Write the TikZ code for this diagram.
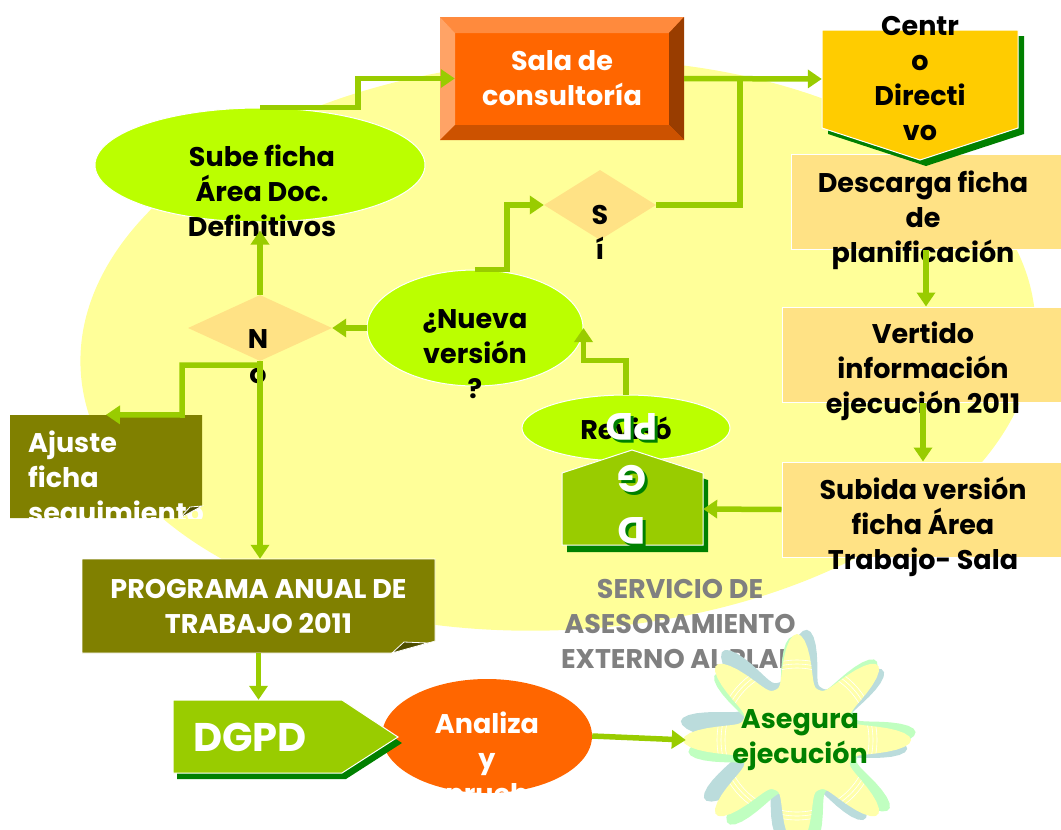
\documentclass[tikz,border=0pt]{standalone}
\usepackage{fontspec}
\setmainfont{Poppins}
\usepackage{xcolor}
\usetikzlibrary{shapes,arrows.meta,positioning,calc}

\definecolor{bgyellow}{HTML}{FFFF99}
\definecolor{limefill}{HTML}{BBFF00}
\definecolor{arrowgreen}{HTML}{99CC00}
\definecolor{peach}{HTML}{FFE285}
\definecolor{salaorange}{HTML}{FF6600}
\definecolor{beveltop}{HTML}{FF8A3D}
\definecolor{bevelleft}{HTML}{FFA366}
\definecolor{bevelright}{HTML}{993D00}
\definecolor{bevelbottom}{HTML}{CC5200}
\definecolor{olivebox}{HTML}{808000}
\definecolor{oliveshade}{HTML}{4D4D00}
\definecolor{goldbox}{HTML}{FFCC00}
\definecolor{shadowgreen}{HTML}{008000}
\definecolor{servgray}{HTML}{808080}
\definecolor{starfill}{HTML}{FFFFAA}
\definecolor{starblue}{HTML}{BBDCDC}
\definecolor{stargreen}{HTML}{C0FFC0}

\begin{document}
\begin{tikzpicture}[x=1pt, y=-1pt,
    flow/.style={draw=arrowgreen, line width=5.5pt, -{Triangle[length=14pt,width=18pt]}},
    flowline/.style={draw=arrowgreen, line width=5.5pt},
    labeltext/.style={font=\bfseries\fontsize{27}{35}\selectfont, align=center, inner sep=0pt},
    oval/.style={ellipse, fill=limefill, draw=white, line width=1pt, inner sep=0pt},
    decision/.style={diamond, fill=peach, inner sep=0pt},
    infobox/.style={rectangle, fill=peach, draw=white, line width=1pt, inner sep=0pt},
    dropshadow/.style={fill=shadowgreen}]

    \useasboundingbox (0,0) rectangle (1061,830);

    % background
    \fill[bgyellow, rotate around={3:(558,345)}] (558,345) ellipse [x radius=478, y radius=285];
    \node[labeltext, text=servgray] (servicio) at (680,624) {SERVICIO DE\\ASESORAMIENTO\\EXTERNO AL PLAN};

    % sala de consultoria
    \node[rectangle, fill=salaorange, minimum width=244pt, minimum height=123pt, labeltext, text=white] (sala) at (562,78.5) {Sala de\\consultoría};
    \fill[beveltop] (440,17) -- (684,17) -- (669,33) -- (455,33) -- cycle;
    \fill[bevelleft] (440,17) -- (455,33) -- (455,125) -- (440,140) -- cycle;
    \fill[bevelright] (684,17) -- (684,140) -- (669,125) -- (669,33) -- cycle;
    \fill[bevelbottom] (440,140) -- (684,140) -- (669,125) -- (455,125) -- cycle;

    % right column
    \node[infobox, minimum width=270pt, minimum height=95pt] (descarga) at (926,201.5) {};
    \node[labeltext] (descarga txt) at (923,220) {Descarga ficha\\de\\planificación};
    \node[infobox, minimum width=282pt, minimum height=95pt] (vertido) at (923,354.5) {};
    \node[labeltext] (vertido txt) at (923,371.5) {Vertido\\información\\ejecución 2011};
    \node[infobox, minimum width=282pt, minimum height=95pt] (subida) at (923,509.5) {};
    \node[labeltext] (subida txt) at (923,527) {Subida versión\\ficha Área\\Trabajo- Sala};

    % centro directivo
    \fill[dropshadow] (828,36) -- (1024,36) -- (1024,134) -- (926,166) -- (828,134) -- cycle;
    \draw[fill=goldbox, draw=white, line width=1pt] (822,30) -- (1018,30) -- (1018,128) -- (920,160) -- (822,128) -- cycle;
    \node[labeltext, minimum width=196pt] (centro) at (920,79) {Centr\\o\\Directi\\vo};

    % left part
    \node[oval, minimum width=330pt, minimum height=114pt] (sube) at (260,165) {};
    \node[labeltext] (sube txt) at (262,191) {Sube ficha\\Área Doc.\\Definitivos};
    \node[decision, minimum width=144pt, minimum height=66pt] (no) at (260,328) {};
    \node[labeltext] (no txt) at (258,357) {N\\o};
    \node[oval, minimum width=216pt, minimum height=116pt] (nueva) at (475,328) {};
    \node[labeltext] (nueva txt) at (475,354) {¿Nueva\\versión\\?};
    \node[decision, minimum width=112pt, minimum height=70pt] (si) at (600,205) {};
    \node[labeltext] (si txt) at (600,232) {S\\í};

    % ajuste ficha
    \fill[olivebox] (10,415) -- (202,415) -- (202,506) -- (180,518) -- (10,518) -- cycle;
    \node[minimum width=192pt, minimum height=103pt, inner sep=0pt] (ajuste) at (106,466.5) {};
    \begin{scope}
        \clip (10,415) rectangle (202,518);
        \node[labeltext, text=white, align=left, anchor=west] (ajuste txt) at (28,480) {Ajuste\\ficha\\seguimiento};
    \end{scope}
    \draw[fill=oliveshade, draw=white, line width=0.8pt] (180,518) -- (190,507) -- (202,506) -- cycle;

    % programa anual
    \draw[fill=olivebox, draw=white, line width=0.6pt] (82,559) -- (435,559) -- (435,641) -- (392,653) -- (82,653) -- cycle;
    \draw[fill=oliveshade, draw=white, line width=0.8pt] (392,653) -- (404,642) -- (428,643) -- cycle;
    \node[labeltext, text=white, minimum width=353pt, minimum height=94pt] (programa) at (258.5,606) {PROGRAMA ANUAL DE\\TRABAJO 2011};

    % revisado por DGPD
    \node[oval, minimum width=208pt, minimum height=66pt, labeltext] (reviso) at (626,428) {Revisó};
    \fill[dropshadow] (567,480) -- (637,457) -- (708,480) -- (708,552) -- (567,552) -- cycle;
    \draw[fill=arrowgreen, draw=white, line width=1pt] (562,473) -- (632,450) -- (703,473) -- (703,545) -- (562,545) -- cycle;
    \node[minimum width=141pt, minimum height=72pt, inner sep=0pt] (casa) at (632.5,509) {};
    \node[labeltext, font=\bfseries\fontsize{38}{52}\selectfont, text=shadowgreen, rotate=180] (casa shadow) at (635,482) {D\\G\\PD};
    \node[labeltext, font=\bfseries\fontsize{38}{52}\selectfont, text=white, rotate=180] (casa txt) at (632,479) {D\\G\\PD};

    % bottom row
    \node[ellipse, fill=salaorange, minimum width=210pt, minimum height=114pt, inner sep=0pt] (analiza) at (487,736) {};
    \begin{scope}
        \clip (380,679) rectangle (595,792);
        \node[labeltext, text=white] (analiza txt) at (487,761) {Analiza\\y\\aprueba};
    \end{scope}
    \fill[dropshadow] (177,706) -- (346,706) -- (402,743) -- (346,779) -- (177,779) -- cycle;
    \draw[fill=arrowgreen, draw=white, line width=1pt] (173,700) -- (342,700) -- (398,737) -- (342,773) -- (173,773) -- cycle;
    \node[minimum width=225pt, minimum height=73pt, inner sep=0pt] (dgpd) at (285.5,736.5) {};
    \node[labeltext, font=\bfseries\fontsize{40}{48}\selectfont, text=white] (dgpd txt) at (250,737) {DGPD};

    % star
    \foreach \col/\ang/\dx/\dy in {starblue/-7/-3/-5, stargreen/5/5/2, starfill/0/0/0}
        \fill[\col, shift={(\dx,\dy)}, rotate around={\ang:(797,740)}] plot[domain=0:360, samples=181] ({797+(58+56*((1+cos(8*\x))/2)^1.6)*cos(\x)}, {740+(54+52*((1+cos(8*\x))/2)^1.6)*sin(\x)}) -- cycle;
    \begin{scope}
        \clip plot[domain=0:360, samples=181] ({797+(58+56*((1+cos(8*\x))/2)^1.6)*cos(\x)}, {740+(54+52*((1+cos(8*\x))/2)^1.6)*sin(\x)}) -- cycle;
        \foreach \r in {72,76,80}
            \draw[white, line width=0.6pt] (797,740) circle [radius=\r];
    \end{scope}
    \node[labeltext, text=shadowgreen, minimum width=228pt] (asegura) at (800,740) {Asegura\\ejecución};

    % connectors
    \coordinate (merge) at (740,78.5);
    \draw[flowline] (si.east) -| (merge);
    \draw[flow] (sube.north) -- ++(98,0) |- ($(sala.west)+(15,0)$);
    \draw[flow] (sala.east) -- (centro.west);
    \draw[flow] (no.north) -- ($(sube.south)+(0,8)$);
    \draw[flow] (nueva.west) -- (no.east);
    \draw[flow] (nueva.north) -- ++(32,0) |- (si.west);
    \draw[flow] (no.south) -- ++(0,4) -| (182,415) -- (ajuste.north);
    \draw[flow] (no.south) -- (no.south |- programa.north);
    \draw[flow] (programa.south) -- (programa.south |- dgpd.north);
    \draw[flow] (analiza.east) -- (asegura.west);
    \draw[flow] (descarga.south) -- (descarga.south |- vertido.north);
    \draw[flow] (vertido.south) -- (subida.north);
    \draw[flow] (subida.west) -- (casa.east);
    \draw[flow] (reviso.north) -- ++(0,-34) -| (nueva.east);
\end{tikzpicture}
\end{document}
